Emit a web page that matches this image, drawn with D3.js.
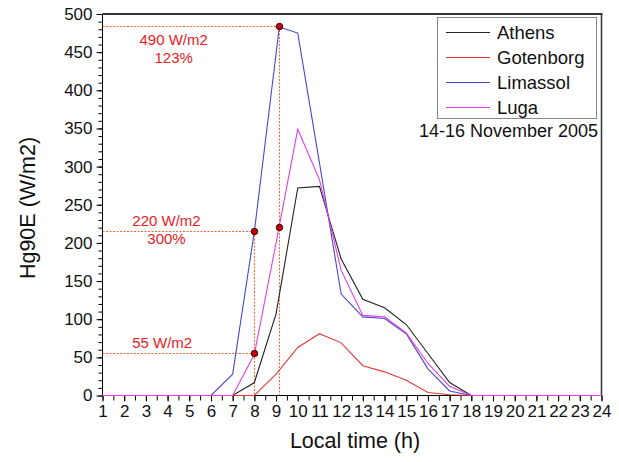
<!DOCTYPE html>
<html><head><meta charset="utf-8">
<script src="https://cdn.jsdelivr.net/npm/d3@7"></script>
<style>body{margin:0;background:#fff}svg{display:block;font-family:"Liberation Sans",Arial,sans-serif}</style>
</head><body>
<svg id="c" width="619" height="462"></svg>
<script>
const hours = [1,2,3,4,5,6,7,8,9,10,11,12,13,14,15,16,17,18,19,20,21,22,23,24];
const limassolHours = [1,2,3,4,5,6,7,8,9.15,10,11,12,13,14,15,16,17,18,19,20,21,22,23,24];
const athens    = [0,0,0,0,0,0,0,17,107,272,274,179,126,115,93,55,17,0,0,0,0,0,0,0];
const gotenborg = [0,0,0,0,0,0,0,0,28,63,81,69,39,31,20,4,1,0,0,0,0,0,0,0];
const limassol  = [0,0,0,0,0,0,28,215,483,475,305,133,103,101,81,35,6,0,0,0,0,0,0,0];
const luga      = [0,0,0,0,0,0,0,54,200,349,283,164,105,103,82,42,12,0,0,0,0,0,0,0];
const seriesNames = ["Athens","Gotenborg","Limassol","Luga"];
const seriesColors = ["#222222","#e03a3a","#4848c8","#e040e0"];
const yTicks = [0,50,100,150,200,250,300,350,400,450,500];
const markerTimes = [8, 8, 9.15, 9.15];
const markerValues = [55, 215, 220, 483];
const annoLines = [["490 W/m2","123%"],["220 W/m2","300%"],["55 W/m2"]];
const annoTimes = [4.28, 3.95, 3.75];
const annoValues = [483, 215, 55];

const svg = d3.select("#c");
const L=102.5, R=601.5, T=14, B=395.5;
const x = d3.scaleLinear().domain([1,24]).range([L,R]);
const y = d3.scaleLinear().domain([0,500]).range([B,T]);
const px = v => Math.round(v-0.5)+0.5;

// axes
const xMinor = d3.range(1,24.01,0.5);
svg.append("g").attr("transform",`translate(0,${B})`)
  .call(d3.axisBottom(x).tickValues(xMinor).tickSize(5).tickFormat(""))
  .call(g=>g.select(".domain").remove())
  .selectAll("line").attr("stroke","#000");
svg.append("g").attr("transform",`translate(0,${B})`)
  .call(d3.axisBottom(x).tickValues(hours).tickSize(6).tickPadding(3).tickFormat(d3.format("d")))
  .call(g=>g.select(".domain").remove())
  .call(g=>g.selectAll("text").attr("font-size",17).attr("fill","#111").attr("font-family","Liberation Sans, Arial"))
  .selectAll("line").attr("stroke","#000");
svg.append("g").attr("transform",`translate(${L},0)`)
  .call(d3.axisLeft(y).tickValues(d3.range(0,501,10)).tickSize(4).tickFormat(""))
  .call(g=>g.select(".domain").remove())
  .selectAll("line").attr("stroke","#000");
svg.append("g").attr("transform",`translate(${L},0)`)
  .call(d3.axisLeft(y).tickValues(yTicks).tickSize(6).tickPadding(4))
  .call(g=>g.select(".domain").remove())
  .call(g=>g.selectAll("text").attr("font-size",17).attr("fill","#111").attr("font-family","Liberation Sans, Arial"))
  .selectAll("line").attr("stroke","#000");

// frame
svg.append("line").attr("x1",L).attr("x2",L).attr("y1",T).attr("y2",B).attr("stroke","#000");
svg.append("line").attr("x1",L).attr("x2",R).attr("y1",B).attr("y2",B).attr("stroke","#000");
svg.append("line").attr("x1",L).attr("x2",R+1).attr("y1",T).attr("y2",T).attr("stroke","#333").attr("stroke-width",2);
svg.append("line").attr("x1",R).attr("x2",R).attr("y1",T).attr("y2",B).attr("stroke","#333").attr("stroke-width",1.5);

// guide lines
function gl(x1,y1,x2,y2){
  svg.append("line").attr("x1",px(x1)).attr("y1",px(y1)).attr("x2",px(x2)).attr("y2",px(y2))
    .attr("stroke","#f26a3a").attr("stroke-width",1.1).attr("stroke-dasharray","2,1.5");
}
gl(L, y(markerValues[3]), x(markerTimes[3]), y(markerValues[3]));
gl(x(markerTimes[3]), y(markerValues[3]), x(markerTimes[3]), B);
gl(L, y(markerValues[1]), x(markerTimes[1]), y(markerValues[1]));
gl(x(markerTimes[1]), y(markerValues[1]), x(markerTimes[1]), B);
gl(L, y(markerValues[0]), x(markerTimes[0]), y(markerValues[0]));

// series
const data = [
  {xs:hours, ys:athens},
  {xs:hours, ys:gotenborg},
  {xs:limassolHours, ys:limassol},
  {xs:hours, ys:luga}
];
const line = d3.line().x(d=>x(d[0])).y(d=>y(d[1]));
data.forEach((s,i)=>{
  svg.append("path").datum(s.xs.map((h,j)=>[h,s.ys[j]]))
    .attr("d",line).attr("fill","none").attr("stroke",seriesColors[i]).attr("stroke-width",1.1);
});

// markers
svg.selectAll("circle.m").data(markerTimes.map((t,i)=>[t,markerValues[i]])).enter()
  .append("circle").attr("cx",d=>px(x(d[0]))).attr("cy",d=>px(y(d[1]))).attr("r",3.2)
  .attr("fill","#c80000").attr("stroke","#300").attr("stroke-width",1);

// annotations
const annoOffsets = [18, -5, -6];
annoLines.forEach((lines,i)=>{
  const t = svg.append("text").attr("x",x(annoTimes[i])).attr("y",y(annoValues[i])+annoOffsets[i])
    .attr("text-anchor","middle").attr("font-size",15).attr("fill","#e8201e");
  lines.forEach((s,k)=>t.append("tspan").attr("x",x(annoTimes[i])).attr("dy",k===0?0:18).text(s));
});

// legend
svg.append("rect").attr("x",437.5).attr("y",17.5).attr("width",159).attr("height",101)
  .attr("fill","#fff").attr("stroke","#888").attr("stroke-width",1);
seriesNames.forEach((n,i)=>{
  const yy = 32.5 + i*25;
  svg.append("line").attr("x1",446).attr("x2",490).attr("y1",yy).attr("y2",yy).attr("stroke",seriesColors[i]).attr("stroke-width",1.2);
  svg.append("text").attr("x",497).attr("y",yy+6.5).attr("font-size",18.5).attr("fill","#111").text(n);
});
svg.append("text").attr("x",598).attr("y",137).attr("text-anchor","end").attr("font-size",18).attr("fill","#111").text("14-16 November 2005");

// axis titles
svg.append("text").attr("x",(L+R)/2+3).attr("y",448).attr("text-anchor","middle").attr("font-size",21.5).attr("fill","#111").text("Local time (h)");
svg.append("text").attr("transform","translate(35,208) rotate(-90)").attr("text-anchor","middle").attr("font-size",21.5).attr("fill","#111").text("Hg90E (W/m2)");
</script>
</body></html>
